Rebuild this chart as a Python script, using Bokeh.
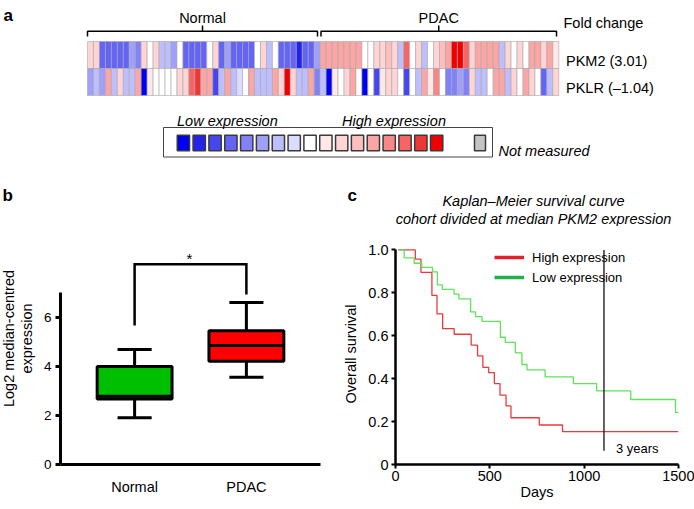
import math
from bokeh.plotting import figure
from bokeh.models import (Range1d, FactorRange, Label, ColumnDataSource, FixedTicker,
                          CustomJSTickFormatter, Legend, LegendItem)
from bokeh.transform import linear_cmap, dodge
from bokeh.layouts import column, row
from bokeh.embed import file_html
from bokeh.resources import INLINE

FONT = "Liberation Sans"

# ---------------- data: panel a (heatmap, expression level -8..8) ----------------
sample_groups = ["Normal", "PDAC"]
pkm2_levels = [2, 2, -5, -5, -5, -5, -5, -3, -4, 2, 0, 2, -2, -2, -3, 0, -5, -5, -5, -5,
               0, 2, -5, -3, -5, -5, -5, -5, 0, 2, -2, 0, -5, -5, -5, -7, -5, -5, -3,
               4, 4, 4, 4, 4, 4, 4, 0, 0, 2, 2, 3, 2, -2, 6, 0, 2, -2, 0, 2, 3,
               4, 8, 8, 6, 2, 4, 4, 4, 4, -2, 2, 0, 2, 0, 4, 4, 2, 4, 1]
pklr_levels = [-3, -2, -3, 4, -2, 2, -2, -2, 4, -8, 1, 0, 0, 0, 0, 2, 2, 6, 7, 4,
               4, -6, -2, 4, -2, -1, 0, 4, -2, -2, -2, 4, 2, 8, 2, -2, -2, 4, -4,
               -2, -8, 1, 0, 2, 4, 0, -8, 0, -6, 1, 2, 2, 0, -6, 0, -2, 4, 1, 5, 0,
               -4, -4, -3, -4, 2, -2, -2, 0, 4, 4, -2, 2, 0, 4, 2, 0, -5, -2, 2]
gene_labels = ["PKM2 (3.01)", "PKLR (\u20131.04)"]
legend_levels = list(range(-8, 9))
palette = ["#0000f0", "#2323eb", "#4646f0", "#6464f5", "#8282f8", "#a0a0fa", "#bebefc", "#dcdcff",
           "#ffffff",
           "#ffe8e8", "#ffd4d4", "#ffbebe", "#fca5a5", "#fa8787", "#f86464", "#f03737", "#f00000"]

# ---------------- data: panel b (box plot) ----------------
groups = ["Normal", "PDAC"]
whisker_low = [1.9, 3.55]
quartile1 = [2.67, 4.2]
medians = [2.78, 4.85]
quartile3 = [3.99, 5.45]
whisker_high = [4.68, 6.6]
box_colors = ["#00bf00", "#ff0000"]

# ---------------- data: panel c (Kaplan-Meier) ----------------
high_days = [15, 105, 135, 193, 220, 250, 311, 401, 435, 463, 494, 524, 554, 586, 612, 762, 885, 1500]
high_surv = [1.0, 0.957, 0.895, 0.788, 0.702, 0.633, 0.607, 0.556, 0.506, 0.453, 0.428, 0.377,
             0.323, 0.273, 0.218, 0.184, 0.153, 0.153]
low_days = [15, 46, 99, 139, 196, 222, 248, 310, 336, 398, 424, 459, 556, 582, 635, 670, 697,
            793, 943, 1066, 1247, 1484, 1500]
low_surv = [1.0, 0.963, 0.938, 0.919, 0.898, 0.837, 0.816, 0.794, 0.772, 0.711, 0.689, 0.667,
            0.593, 0.569, 0.52, 0.466, 0.441, 0.408, 0.377, 0.343, 0.303, 0.243, 0.243]
three_years_day = 1105

# =====================================================================
# Top strip: panel a (+ panel letters and KM title, which sit above panels b/c)
# =====================================================================
A_W, A_H = 694, 226
ncol = len(pkm2_levels)
CW = (558.3 - 87.0) / ncol
RH = 27.0


def ax(px):
    return (px - 87.0) / CW - 0.5


def ay(py):
    return (81.5 - py) / RH


pa = figure(width=A_W, height=A_H, x_range=Range1d(ax(0), ax(A_W)), y_range=Range1d(ay(A_H), ay(0)),
            toolbar_location=None, output_backend="svg", x_axis_location=None, y_axis_location=None,
            min_border=0, outline_line_color=None)
pa.grid.grid_line_color = None

cmap = linear_cmap("level", palette, -8.5, 8.5)
heat = ColumnDataSource(dict(x=list(range(ncol)) * 2,
                             y=[1] * ncol + [0] * ncol,
                             level=pkm2_levels + pklr_levels))
pa.rect("x", "y", 1, 1, source=heat, fill_color=cmap, line_color="#a8a8a8", line_width=0.6)


def la(text, px, py, size="14.5px", style="normal", align="left"):
    pa.add_layout(Label(x=px, y=A_H - py, x_units="screen", y_units="screen", text=text,
                        text_font=FONT, text_font_size=size, text_font_style=style,
                        text_align=align, text_baseline="alphabetic", text_color="black"))


# group brackets
for (x0, x1), name in zip([(87, 317), (320.5, 556)], sample_groups):
    xm = (x0 + x1) / 2
    pa.line([ax(x0), ax(x0), ax(x1), ax(x1)], [ay(36), ay(30.7), ay(30.7), ay(36)],
            line_color="black", line_width=1.5)
    pa.line([ax(xm), ax(xm)], [ay(30.7), ay(25)], line_color="black", line_width=1.5)
    la(name, xm, 17.5, align="center")

# legend box and swatches
pa.rect(x=[ax((163 + 492) / 2)], y=[ay((127 + 156.5) / 2)], width=329 / CW, height=29.5 / RH,
        fill_color=None, line_color="#444444", line_width=1)
sw = ColumnDataSource(dict(x=[ax(182.9 + 15.83 * i) for i in range(len(legend_levels))],
                           y=[ay(142.5)] * len(legend_levels), level=legend_levels))
pa.rect("x", "y", 12.3 / CW, 15.6 / RH, source=sw, fill_color=cmap, line_color="#3a3a3a",
        line_width=1.5)
pa.rect(x=[ax(479.5)], y=[ay(142.5)], width=11 / CW, height=15.6 / RH, fill_color="#c4c4c4",
        line_color="#3a3a3a", line_width=1.5)

la("a", 3, 15, size="17px", style="bold")
la("Fold change", 563, 22.7)
la(gene_labels[0], 565.5, 60.4)
la(gene_labels[1], 565.5, 87.7)
la("Low expression", 176.5, 120, style="italic")
la("High expression", 341.5, 120, style="italic")
la("Not measured", 498, 150.5, style="italic")
la("b", 2, 195, size="17px", style="bold")
la("c", 347, 195, size="17px", style="bold")
la("Kaplan\u2013Meier survival curve", 533, 200.5, style="italic", align="center")
la("cohort divided at median PKM2 expression", 533, 218, style="italic", align="center")

# =====================================================================
# Panel b: y-axis title strip + box plot
# =====================================================================
ROW_H = 509 - A_H
pbl = figure(width=40, height=ROW_H, x_range=Range1d(0, 1), y_range=Range1d(0, 1),
             toolbar_location=None, output_backend="svg", x_axis_location=None,
             y_axis_location=None, min_border=0, outline_line_color=None)
pbl.grid.grid_line_color = None
for txt, cx in (("Log2 median-centred", 8), ("expression", 26.5)):
    pbl.add_layout(Label(x=cx, y=509 - 383, x_units="screen", y_units="screen", text=txt,
                         text_font=FONT, text_font_size="14.5px", text_align="center",
                         text_baseline="middle", angle=math.pi / 2, text_color="black"))

pb = figure(width=300, height=ROW_H, x_range=FactorRange(factors=groups, range_padding=0.163),
            y_range=Range1d(0, 9), min_border_left=20, min_border_right=20, min_border_top=17,
            min_border_bottom=45, toolbar_location=None, output_backend="svg",
            outline_line_color=None)
pb.grid.grid_line_color = None
pb.yaxis.ticker = FixedTicker(ticks=[0, 2, 4, 6])
pb.yaxis.bounds = (0, 7)
pb.yaxis.minor_tick_line_color = None
pb.yaxis.major_tick_in = 0
pb.yaxis.major_tick_out = 5
pb.yaxis.major_label_standoff = 4
pb.yaxis.major_label_text_font_size = "13.5px"
pb.xaxis.major_tick_line_color = None
pb.xaxis.major_label_standoff = 8
pb.xaxis.major_label_text_font_size = "14.5px"
for a_ in (pb.xaxis, pb.yaxis):
    a_.axis_line_width = 3
    a_.major_tick_line_width = 3
    a_.major_label_text_font = FONT
    a_.major_label_text_color = "black"

bsrc = ColumnDataSource(dict(group=groups, lo=whisker_low, q1=quartile1, med=medians,
                             q3=quartile3, hi=whisker_high, color=box_colors))
pb.segment(x0="group", y0="lo", x1="group", y1="hi", source=bsrc, line_color="black", line_width=3)
for col in ("lo", "hi"):
    pb.segment(x0=dodge("group", -0.1525, range=pb.x_range), y0=col,
               x1=dodge("group", 0.1525, range=pb.x_range), y1=col, source=bsrc,
               line_color="black", line_width=3)
pb.vbar(x="group", bottom="q1", top="q3", width=0.67, source=bsrc, fill_color="color",
        line_color="black", line_width=3)
pb.segment(x0=dodge("group", -0.335, range=pb.x_range), y0="med",
           x1=dodge("group", 0.335, range=pb.x_range), y1="med", source=bsrc,
           line_color="black", line_width=3)
# significance bracket
pb.line(x=["Normal", "Normal", "PDAC", "PDAC"], y=[5.66, 8.15, 8.15, 6.92], line_color="black",
        line_width=2.5, line_join="miter")
pb.add_layout(Label(x=189 - 60, y=464 - 258, x_units="screen", y_units="screen", text="*",
                    text_font=FONT, text_font_size="15px", text_align="center",
                    text_baseline="alphabetic", text_color="black"))

# =====================================================================
# Panel c: Kaplan-Meier
# =====================================================================
pc = figure(width=354, height=ROW_H, x_range=Range1d(0, 1500), y_range=Range1d(0, 1.03),
            min_border_left=53, min_border_right=16, min_border_top=0, min_border_bottom=45,
            toolbar_location=None, output_backend="svg", outline_line_color=None)
pc.grid.grid_line_color = None
pc.yaxis.ticker = FixedTicker(ticks=[0, 0.2, 0.4, 0.6, 0.8, 1.0])
pc.yaxis.formatter = CustomJSTickFormatter(code="return tick == 0 ? '0' : tick.toFixed(1);")
pc.yaxis.bounds = (0, 1)
pc.xaxis.ticker = FixedTicker(ticks=[0, 500, 1000, 1500])
pc.yaxis.axis_label = "Overall survival"
pc.yaxis.axis_label_standoff = 6
pc.xaxis.axis_label = "Days"
pc.xaxis.axis_label_standoff = 0
for a_ in (pc.xaxis, pc.yaxis):
    a_.axis_line_width = 2.5
    a_.major_tick_line_width = 2
    a_.major_tick_in = 0
    a_.major_tick_out = 4
    a_.minor_tick_line_color = None
    a_.major_label_text_font = FONT
    a_.major_label_text_font_size = "14.5px"
    a_.major_label_text_color = "black"
    a_.major_label_standoff = 3
    a_.axis_label_text_font = FONT
    a_.axis_label_text_font_size = "14.5px"
    a_.axis_label_text_font_style = "normal"
    a_.axis_label_text_color = "black"
pc.xaxis.major_label_standoff = 2

pc.step(high_days, high_surv, mode="after", line_color="#ec3a3a", line_width=1.3)
pc.step(low_days, low_surv, mode="after", line_color="#5fe35a", line_width=1.3)
pc.segment(x0=[three_years_day], y0=[0.064], x1=[three_years_day], y1=[1.0],
           line_color="#111111", line_width=1.3)
pc.add_layout(Label(x=three_years_day, y=0.075, x_offset=12, text="3 years", text_font=FONT,
                    text_font_size="13px", text_baseline="middle", text_color="black"))

# legend swatches (drawn off-range; only their legend glyphs show)
r_hi = pc.line(x=[-300, -200], y=[-1, -1], line_color="#e5202a", line_width=3.5)
r_lo = pc.line(x=[-300, -200], y=[-1, -1], line_color="#22b04b", line_width=3.5)
leg = Legend(items=[LegendItem(label="High expression", renderers=[r_hi]),
                    LegendItem(label="Low expression", renderers=[r_lo])],
             location=(99, 464 - 287), glyph_width=30, glyph_height=20, label_height=20,
             label_standoff=8, spacing=0, padding=0, margin=0, border_line_color=None,
             background_fill_alpha=0, label_text_font=FONT, label_text_font_size="13px",
             label_text_color="black")
pc.add_layout(leg)

layout = column(pa, row(pbl, pb, pc))
open("out.html", "w").write(file_html(layout, INLINE))
